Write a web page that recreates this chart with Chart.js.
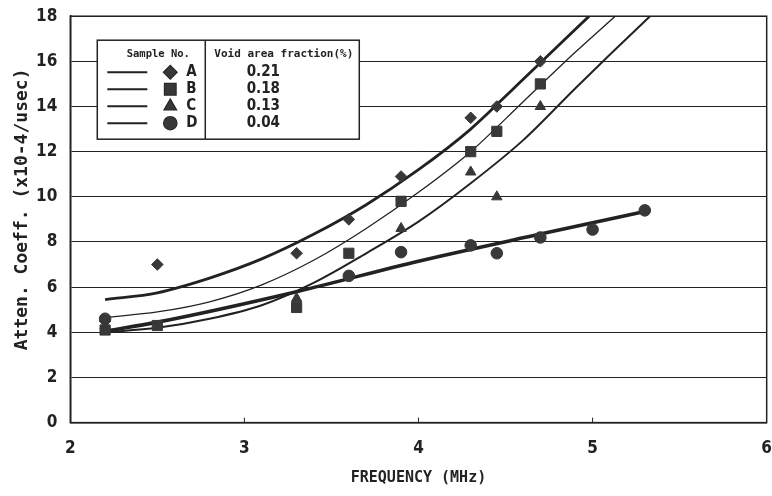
<!DOCTYPE html>
<html>
<head>
<meta charset="utf-8">
<script src="https://cdn.jsdelivr.net/npm/chart.js@4/dist/chart.umd.min.js"></script>
<style>
  html, body { margin: 0; padding: 0; background: #fff; overflow: hidden; }
  #wrap { width: 772px; height: 496px; overflow: hidden; }
  #c { display: block; margin-top: -7px; }
</style>
</head>
<body>
<div id="wrap"><canvas id="c" width="780" height="503"></canvas></div>
<script>
// Measured attenuation coefficients (x10^-4 / usec) per sample
const freqA = [2.2, 2.5, 3.3, 3.6, 3.9, 4.3, 4.45, 4.7];
const attenA = [4.5, 7.0, 7.5, 9.0, 10.9, 13.5, 14.0, 16.0];
const freqB = [2.2, 2.5, 3.3, 3.6, 3.9, 4.3, 4.45, 4.7];
const attenB = [4.1, 4.3, 5.1, 7.5, 9.8, 12.0, 12.9, 15.0];
const freqC = [2.2, 3.3, 3.9, 4.3, 4.45, 4.7];
const attenC = [4.3, 5.5, 8.6, 11.1, 10.0, 14.0];
const freqD = [2.2, 3.6, 3.9, 4.3, 4.45, 4.7, 5.0, 5.3];
const attenD = [4.6, 6.5, 7.55, 7.85, 7.5, 8.2, 8.55, 9.4];

// Fitted trend curves for each sample
const fitFreqA = [2.2, 2.5, 2.8, 3.1, 3.4, 3.7, 4.0, 4.3, 4.6, 4.98];
const fitAttenA = [5.45, 5.75, 6.4, 7.25, 8.35, 9.65, 11.2, 13.0, 15.2, 18.0];
const fitFreqB = [2.2, 2.5, 2.8, 3.1, 3.4, 3.7, 4.0, 4.3, 4.6, 4.9, 5.13];
const fitAttenB = [4.65, 4.9, 5.35, 6.1, 7.2, 8.6, 10.2, 12.0, 14.2, 16.4, 18.0];
const fitFreqC = [2.2, 2.5, 2.8, 3.1, 3.4, 3.7, 4.0, 4.3, 4.6, 4.9, 5.1, 5.33];
const fitAttenC = [4.0, 4.2, 4.6, 5.2, 6.2, 7.5, 8.9, 10.6, 12.5, 14.8, 16.3, 18.0];
const fitFreqD = [2.2, 2.5, 3.3, 4.0, 4.7, 5.3];
const fitAttenD = [4.05, 4.45, 5.8, 7.15, 8.35, 9.35];

// Key contents and axis labels
const sampleNames = ['A', 'B', 'C', 'D'];
const voidFractions = ['0.21', '0.18', '0.13', '0.04'];
const xTicks = [2, 3, 4, 5, 6];
const yTicks = [0, 2, 4, 6, 8, 10, 12, 14, 16, 18];
const xTitle = 'FREQUENCY (MHz)';
const yTitle = 'Atten. Coeff. (x10-4/usec)';

const INK = '#222222';
const MARK = '#383838';
const NARROW = '"Liberation Sans Narrow", "DejaVu Sans Condensed", "Liberation Sans", sans-serif';
const MONO = '"DejaVu Sans Mono", "Liberation Mono", monospace';

const pts = (xs, ys) => xs.map((x, i) => ({ x, y: ys[i] }));

const markerStyles = ['rectRot', 'rect', 'triangle', 'circle'];
const markerRadius = [5.8, 7.2, 6, 5.8];
const fitWidths = [2.8, 1.3, 2.0, 3.6];

const fits = [
  pts(fitFreqA, fitAttenA), pts(fitFreqB, fitAttenB),
  pts(fitFreqC, fitAttenC), pts(fitFreqD, fitAttenD)
];
const measured = [
  pts(freqA, attenA), pts(freqB, attenB),
  pts(freqC, attenC), pts(freqD, attenD)
];

const datasets = [];
fits.forEach((d, i) => datasets.push({
  label: 'fit ' + sampleNames[i], data: d, showLine: true,
  borderColor: INK, borderWidth: fitWidths[i], pointRadius: 0,
  cubicInterpolationMode: 'monotone', fill: false, order: 2
}));
measured.forEach((d, i) => datasets.push({
  label: sampleNames[i], data: d, showLine: false,
  pointStyle: markerStyles[i], pointRadius: markerRadius[i],
  backgroundColor: MARK, borderColor: MARK, borderWidth: 1, order: 1
}));

// Frame around the plot area, small inner ticks on the frequency axis,
// and the rotated attenuation axis title
const framePlugin = {
  id: 'frame',
  afterDatasetsDraw(chart) {
    const { ctx, chartArea: a, scales } = chart;
    ctx.save();
    ctx.strokeStyle = INK;
    ctx.lineWidth = 1.5;
    ctx.strokeRect(a.left, a.top, a.right - a.left, a.bottom - a.top);
    ctx.lineWidth = 1;
    xTicks.slice(1, -1).forEach(v => {
      const px = scales.x.getPixelForValue(v);
      ctx.beginPath();
      ctx.moveTo(px, a.bottom);
      ctx.lineTo(px, a.bottom - 5);
      ctx.stroke();
    });
    ctx.translate(a.left - 48, (a.top + a.bottom) / 2 - 10);
    ctx.rotate(-Math.PI / 2);
    ctx.fillStyle = INK;
    ctx.font = 'bold 18px ' + MONO;
    ctx.textAlign = 'center';
    ctx.textBaseline = 'middle';
    ctx.fillText(yTitle, 0, 0);
    ctx.restore();
  }
};

// Boxed key: sample name with line + marker, and void area fraction column
const keyPlugin = {
  id: 'keyBox',
  afterDatasetsDraw(chart) {
    const { ctx, chartArea: a } = chart;
    const left = a.left + 27, top = a.top + 24, w = 262, h = 99;
    const divX = left + 108;
    ctx.save();
    ctx.fillStyle = '#fff';
    ctx.fillRect(left, top, w, h);
    ctx.strokeStyle = INK;
    ctx.lineWidth = 1.5;
    ctx.strokeRect(left, top, w, h);
    ctx.beginPath();
    ctx.moveTo(divX, top);
    ctx.lineTo(divX, top + h);
    ctx.stroke();

    ctx.fillStyle = INK;
    ctx.textBaseline = 'middle';
    ctx.font = 'bold 10.5px ' + MONO;
    ctx.textAlign = 'center';
    ctx.fillText('Sample No.', left + 61, top + 14);
    ctx.textAlign = 'left';
    ctx.font = 'bold 11px ' + MONO;
    ctx.fillText('Void area fraction(%)', divX + 9, top + 14);

    sampleNames.forEach((name, i) => {
      const y = top + 32 + i * 17;
      ctx.strokeStyle = INK;
      ctx.lineWidth = 2;
      ctx.beginPath();
      ctx.moveTo(left + 10, y);
      ctx.lineTo(left + 50, y);
      ctx.stroke();
      ctx.fillStyle = MARK;
      Chart.helpers.drawPoint(ctx, {
        pointStyle: markerStyles[i], radius: markerRadius[i] + 0.5, rotation: 0, borderWidth: 1
      }, left + 73, y);
      ctx.fill();
      ctx.fillStyle = INK;
      ctx.font = 'bold 15px ' + NARROW;
      ctx.textAlign = 'left';
      ctx.fillText(name, left + 89, y);
      ctx.textAlign = 'center';
      ctx.fillText(voidFractions[i], divX + 58, y);
    });
    ctx.restore();
  }
};

new Chart(document.getElementById('c'), {
  type: 'scatter',
  data: { datasets },
  options: {
    responsive: false,
    animation: false,
    layout: { padding: { top: 1, right: 0, left: 23, bottom: 9 } },
    plugins: { legend: { display: false }, tooltip: { enabled: false } },
    scales: {
      x: {
        type: 'linear', min: 2, max: 6,
        afterBuildTicks: s => { s.ticks = xTicks.map(v => ({ value: v })); },
        grid: { display: false },
        border: { display: true, color: INK, width: 1.5 },
        ticks: { color: INK, font: { family: NARROW, size: 17, weight: 'bold' }, padding: 8 },
        title: {
          display: true, text: xTitle, color: INK,
          font: { family: MONO, size: 15, weight: 'bold' }, padding: { top: 2, bottom: 0 }
        }
      },
      y: {
        type: 'linear', min: 0, max: 18,
        afterBuildTicks: s => { s.ticks = yTicks.map(v => ({ value: v })); },
        grid: { color: INK, lineWidth: 1, drawTicks: false },
        border: { display: true, color: INK, width: 1.5 },
        ticks: { color: INK, font: { family: NARROW, size: 17, weight: 'bold' }, padding: 13 }
      }
    }
  },
  plugins: [framePlugin, keyPlugin]
});
</script>
</body>
</html>
